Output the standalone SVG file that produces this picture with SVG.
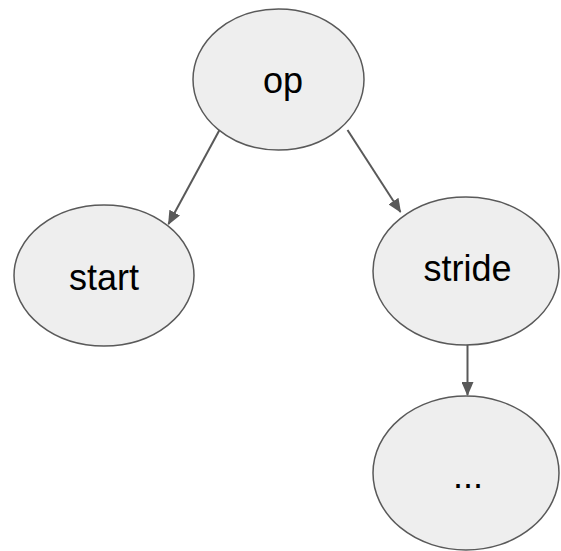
<svg xmlns="http://www.w3.org/2000/svg" width="561" height="551" viewBox="0 0 561 551">
<style>
.node ellipse{fill:#eeeeee;stroke:#595959;stroke-width:1.5}
.node text{font-family:"Liberation Sans",Arial,sans-serif;font-size:36px;fill:#000;text-anchor:middle}
.edges line{stroke:#595959;stroke-width:2;fill:none}
</style>
<defs>
<marker id="arr" markerUnits="userSpaceOnUse" markerWidth="14" markerHeight="12" refX="13" refY="6" orient="auto">
<path d="M0,0 L14,6 L0,12 Z" fill="#595959"/>
</marker>
</defs>
<rect width="561" height="551" fill="#fff"/>
<g id="edges" class="edges">
<line x1="219.5" y1="130" x2="168.5" y2="224" marker-end="url(#arr)"/>
<line x1="347.5" y1="130" x2="400.5" y2="212" marker-end="url(#arr)"/>
<line x1="467.5" y1="345" x2="467.5" y2="395" marker-end="url(#arr)"/>
</g>
<g id="op" class="node">
<ellipse cx="278.5" cy="79.5" rx="85.5" ry="70.5"/>
<text x="283" y="93">op</text>
</g>
<g id="start" class="node">
<ellipse cx="104" cy="275.5" rx="90" ry="70.5"/>
<text x="104" y="290">start</text>
</g>
<g id="stride" class="node">
<ellipse cx="466" cy="271" rx="93" ry="74"/>
<text x="467.5" y="281">stride</text>
</g>
<g id="more" class="node">
<ellipse cx="466" cy="473" rx="93" ry="77"/>
<text x="468" y="488">...</text>
</g>
</svg>
